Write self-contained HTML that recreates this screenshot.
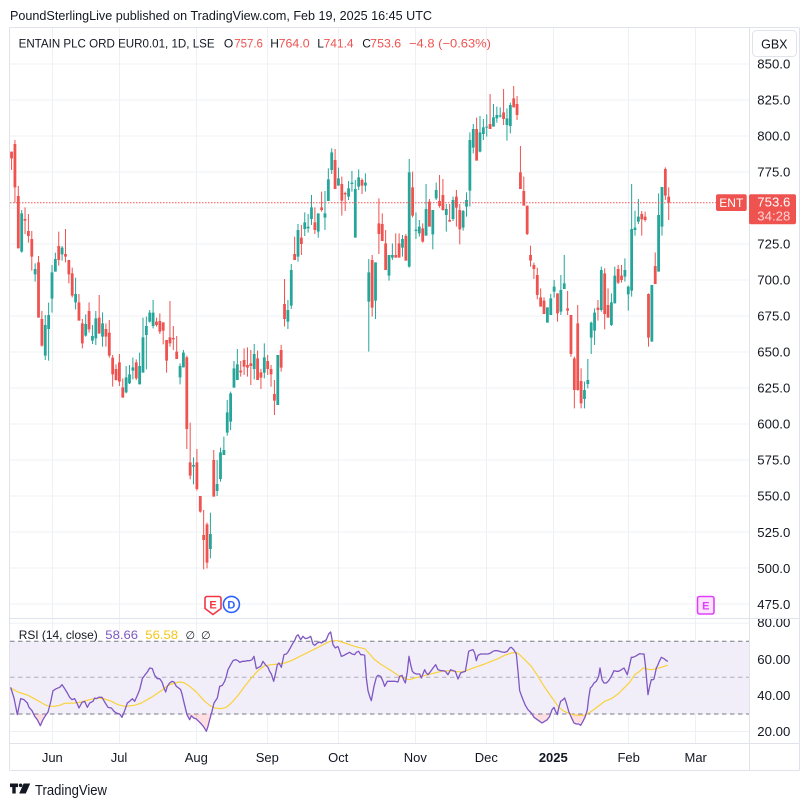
<!DOCTYPE html>
<html><head><meta charset="utf-8"><style>
html,body{margin:0;padding:0;background:#fff;}
svg{display:block;font-family:"Liberation Sans",Arial,sans-serif;}
</style></head><body>
<svg width="810" height="806" viewBox="0 0 810 806" xmlns="http://www.w3.org/2000/svg">
<defs>
<clipPath id="pp"><rect x="10" y="28" width="739" height="590"/></clipPath>
<clipPath id="rp"><rect x="10" y="619" width="739" height="124"/></clipPath>
<clipPath id="os" clipPathUnits="userSpaceOnUse"><rect x="-50" y="288" width="1100" height="200"/></clipPath>
<clipPath id="ax80"><rect x="750" y="619" width="50" height="20"/></clipPath>
</defs>
<rect width="810" height="806" fill="#fff"/>
<text x="10" y="20" font-size="13" fill="#131722" textLength="422" lengthAdjust="spacingAndGlyphs">PoundSterlingLive published on TradingView.com, Feb 19, 2025 16:45 UTC</text>

<!-- grid -->
<g stroke="#eef0f4" stroke-width="1" fill="none">
<path d="M52.5 28V743M119.5 28V743M196.5 28V743M267.5 28V743M338.5 28V743M415.5 28V743M486.5 28V743M553.5 28V743M628.5 28V743M695.5 28V743"/>
<path d="M10 64H749M10 100H749M10 136H749M10 172H749M10 208H749M10 244H749M10 280H749M10 316H749M10 352H749M10 388H749M10 424H749M10 460H749M10 496H749M10 532H749M10 568H749M10 604H749"/>
</g>

<!-- candles -->
<g clip-path="url(#pp)">
<g transform="translate(52,130) scale(3.37,0.333333)" fill="none">
<path stroke="#ef5350" stroke-width="0.3" d="M-12 65V120M-11 30V218M-10 168V355M-8 232V312M-7 252V338M-6 303V422M-4 378V563M-3 543V650M2 305V407M4 297V397M5 390V460M6 413V502M8 492V572M9 567V655M11 517V608M14 495V612M16 580V650M17 570V683M18 675V770M19 703V752M20 672V768M21 745V803M25 688V750M31 563V590M32 550V612M33 577V643M34 630V728M35 513V650M36 588V660M37 618V687M40 677V957M41 878V1048M43 957V1082M44 1098V1148M45 1140V1318M46 1178V1315M48 960V1100M56 693V740M57 655V735M58 652V740M59 660V765M61 662V750M62 717V777M64 675V735M65 705V770M66 750V855M68 645V725M69 447V590M72 320V390M74 285V375M78 232V312M80 185V245M84 57V177M86 140V257M87 185V243M92 145V192M95 375V560M97 205V372M98 250V333M99 300V420M102 310V383M103 310V383M105 312V392M107 125V262M110 280V338M112 207V290"/>
<path stroke="#ef5350" stroke-width="0.83" d="M-12 65V85M-11 42V172M-10 198V355M-8 267V272M-7 303V318M-6 327V380M-4 397V563M-3 567V647M2 348V390M4 372V380M5 390V433M6 430V497M8 517V572M9 580V640M11 543V598M14 563V610M16 597V620M17 608V677M18 683V733M19 717V750M20 697V755M21 772V803M25 697V745M31 575V585M32 573V605M33 577V602M34 630V692M35 622V640M36 624V628M37 665V687M40 682V897M41 997V1037M43 997V1077M44 1098V1145M45 1215V1230M46 1183V1298M48 990V1100M56 722V727M57 690V710M58 705V713M59 700V708M61 685V750M62 727V743M64 693V717M65 717V733M66 792V812M68 660V713M69 522V567M72 372V390M74 323V342M78 277V300M80 232V240M84 90V177M86 162V212M87 189V193M92 150V167M95 390V533M97 280V312M98 282V333M99 340V420M102 375V383M103 340V383M105 318V392M107 172V257M110 295V335M112 215V290"/>
<path stroke="#26a69a" stroke-width="0.3" d="M-9 240V368M-5 400V455M-2 555V690M-1 518V692M0 405V548M1 368V425M3 348V392M7 443V538M10 553V620M12 585V642M13 543V645M15 547V650M22 708V790M23 705V762M24 683V748M26 668V763M27 563V728M28 560V718M29 540V578M30 510V595M38 700V763M39 660V712M42 982V1063M47 1148V1285M49 990V1098M50 953V1055M51 920V975M52 810V917M53 785V900M54 693V773M55 657V750M60 642V748M63 640V745M67 675V825M70 510V597M71 402V537M73 282V395M75 247V318M76 252V308M77 195V285M79 250V323M81 183V300M82 115V213M83 55V132M85 113V167M88 153V210M89 123V185M90 150V323M91 118V180M93 130V185M94 387V665M96 397V567M100 375V452M101 340V390M104 315V380M106 87V413M108 247V327M109 270V320M111 162V317M113 240V358"/>
<path stroke="#26a69a" stroke-width="0.83" d="M-9 250V365M-5 417V433M-2 585V677M-1 555V597M0 427V506M1 387V425M3 353V373M7 492V517M10 582V617M12 618V632M13 565V625M15 580V620M22 742V787M23 733V760M24 712V722M26 708V763M27 622V728M28 588V615M29 548V575M30 548V588M38 708V742M39 668V712M42 1005V1010M47 1212V1257M49 1062V1083M50 967V1047M51 960V975M52 847V908M53 790V875M54 715V773M55 703V750M60 672V717M63 682V728M67 675V825M70 540V575M71 420V527M73 300V380M75 277V297M76 290V295M77 232V267M79 250V305M81 250V263M82 148V213M83 67V120M85 145V167M88 175V200M89 158V162M90 177V323M91 142V170M93 158V167M94 427V515M96 397V512M100 375V437M101 375V383M104 327V353M106 127V410M108 299V303M109 290V310M111 237V317M113 240V313"/>
</g>
<g transform="translate(52,80) scale(3.37,0.333333)" fill="none">
<path stroke="#ef5350" stroke-width="0.3" d="M115 285V383M116 297V392M118 372V425M120 330V440M121 372V493M126 113V242M130 42V147M134 27V135M137 18V82M138 48V120M139 198V327M140 290V377M141 377V465M142 497V560M143 548V597M144 563V658M145 625V680M146 652V702M150 640V725M153 633V705M154 705V830M155 830V985M156 675V932M157 865V985M162 660V722M164 565V748M165 625V713M168 555V612M169 555V608M175 393V467M176 395V425M177 640V800M179 517V612M182 262V360M183 322V420"/>
<path stroke="#ef5350" stroke-width="0.83" d="M115 363V378M116 345V390M118 420V425M120 350V383M121 390V448M126 147V242M130 132V147M134 97V117M137 55V82M138 72V105M139 277V327M140 333V377M141 377V462M142 525V542M143 555V567M144 585V645M145 652V680M146 662V702M150 640V700M153 685V692M154 705V822M155 835V930M156 730V930M157 903V970M162 683V690M164 580V702M165 675V713M168 567V608M169 587V600M175 402V418M176 410V420M177 642V773M179 558V612M182 267V347M183 350V368"/>
<path stroke="#26a69a" stroke-width="0.3" d="M114 308V360M117 372V455M119 350V423M122 390V452M123 337V410M124 157V380M125 132V220M127 108V217M128 117V180M129 103V170M131 72V140M132 80V128M133 82V112M135 85V182M136 68V160M147 682V728M148 642V705M149 600V653M151 585V705M152 525V627M158 905V985M159 837V925M160 725V822M161 685V795M163 560V695M166 640V738M167 560V670M170 535V605M171 617V692M172 312V650M173 392V467M174 357V432M178 615V785M180 340V575M181 321V467"/>
<path stroke="#26a69a" stroke-width="0.83" d="M114 330V355M117 387V405M119 360V417M122 393V443M123 360V380M124 180V332M125 147V203M127 157V215M128 142V162M129 140V143M131 112V140M132 105V115M133 106V110M135 115V135M136 75V138M147 682V728M148 655V705M149 620V635M151 630V695M152 610V627M158 930V957M159 900V912M160 728V773M161 698V752M163 570V690M166 667V735M167 587V670M170 570V590M171 620V643M172 447V632M173 443V450M174 410V425M178 615V785M180 405V575M181 321V440"/>
</g>
</g>

<!-- price line -->
<line x1="10" y1="202.7" x2="716" y2="202.7" stroke="#ef5350" stroke-width="1" stroke-dasharray="1.5,1.5"/>

<!-- legend -->
<g font-size="12">
<text x="18.6" y="47.5" fill="#131722" textLength="196" lengthAdjust="spacingAndGlyphs">ENTAIN PLC ORD EUR0.01, 1D, LSE</text>
<text x="223.9" y="47.5" fill="#131722">O</text>
<text x="234.2" y="47.5" fill="#ef5350" textLength="28.7" lengthAdjust="spacingAndGlyphs">757.6</text>
<text x="270.3" y="47.5" fill="#131722">H</text>
<text x="278.6" y="47.5" fill="#ef5350" textLength="31" lengthAdjust="spacingAndGlyphs">764.0</text>
<text x="317.2" y="47.5" fill="#131722">L</text>
<text x="323.6" y="47.5" fill="#ef5350" textLength="30" lengthAdjust="spacingAndGlyphs">741.4</text>
<text x="362.3" y="47.5" fill="#131722">C</text>
<text x="370.2" y="47.5" fill="#ef5350" textLength="31" lengthAdjust="spacingAndGlyphs">753.6</text>
<text x="409" y="47.5" fill="#ef5350" textLength="82" lengthAdjust="spacingAndGlyphs">−4.8 (−0.63%)</text>
</g>

<!-- markers -->
<path d="M206,596.5 h13 a2,2 0 0 1 2,2 v10 l-8,6 l-8,-6 v-10 a2,2 0 0 1 2,-2 z" fill="#fff" stroke="#f23645" stroke-width="1.6"/>
<text x="213" y="608.5" font-size="11" font-weight="bold" fill="#f23645" text-anchor="middle">E</text>
<circle cx="231.4" cy="604.4" r="8" fill="#fff" stroke="#2962ff" stroke-width="1.6"/>
<text x="231.4" y="608.4" font-size="11" font-weight="bold" fill="#2962ff" text-anchor="middle">D</text>
<rect x="697.5" y="596.5" width="16.5" height="17.5" rx="2" fill="#fce4fe" stroke="#e040fb" stroke-width="1.6"/>
<text x="705.8" y="609.3" font-size="11" font-weight="bold" fill="#e040fb" text-anchor="middle">E</text>

<!-- RSI pane -->
<g clip-path="url(#rp)">
<rect x="10" y="641.3" width="739" height="72.7" fill="#f2eef9"/>
<g stroke="#eef0f4"><path d="M10 623.3H749M10 659.3H749M10 695.3H749M10 731.5H749"/></g>
<line x1="10" y1="641.3" x2="749" y2="641.3" stroke="#787b86" stroke-dasharray="4.5,3.5"/>
<line x1="10" y1="677.3" x2="749" y2="677.3" stroke="#787b86" stroke-opacity="0.55" stroke-dasharray="4.5,3.5"/>
<line x1="10" y1="714" x2="749" y2="714" stroke="#787b86" stroke-dasharray="4.5,3.5"/>
<g transform="translate(8,618) scale(0.333333)" fill="none" stroke-linejoin="round">
<polygon clip-path="url(#os)" fill="rgba(242,54,69,0.16)" stroke="none" points="8,208 18,240 28,290 38,242 48,245 58,255 63,268 72,278 80,295 88,305 97,323 105,305 113,292 120,282 128,252 135,218 145,212 155,208 162,200 170,212 178,225 185,238 192,245 200,242 208,258 213,270 222,253 230,250 238,268 245,255 255,250 260,240 265,242 272,238 282,238 290,252 300,268 310,270 318,280 325,285 335,288 342,298 350,278 358,255 365,250 373,242 380,250 388,232 395,215 403,182 410,172 418,162 425,150 433,152 440,172 448,182 455,182 462,192 468,210 473,222 478,205 485,195 492,190 498,192 505,205 512,210 518,215 522,228 530,262 537,290 545,305 550,293 557,300 565,303 572,310 580,318 588,328 595,340 600,325 605,305 612,280 618,255 628,240 635,205 643,202 650,190 660,155 990,155 990,288 8,288"/>
<polyline stroke="#f9d23c" stroke-width="3.6" points="8,210 30,222 60,232 90,248 110,260 125,265 140,265 155,262 170,256 200,255 220,252 245,245 270,240 290,243 310,250 330,260 350,265 380,262 400,255 430,238 460,218 480,202 500,195 515,192 528,194 545,205 565,222 590,250 605,262 620,270 640,272 655,268 670,255 690,232 710,205 730,180 750,158 770,143 790,140 810,138 830,135 850,128 870,118 890,108 910,98 930,88 950,78 965,70 980,68 990,68"/>
<polyline stroke="#7e57c2" stroke-width="3.9" points="8,208 18,240 28,290 38,242 48,245 58,255 63,268 72,278 80,295 88,305 97,323 105,305 113,292 120,282 128,252 135,218 145,212 155,208 162,200 170,212 178,225 185,238 192,245 200,242 208,258 213,270 222,253 230,250 238,268 245,255 255,250 260,240 265,242 272,238 282,238 290,252 300,268 310,270 318,280 325,285 335,288 342,298 350,278 358,255 365,250 373,242 380,250 388,232 395,215 403,182 410,172 418,162 425,150 433,152 440,172 448,182 455,182 462,192 468,210 473,222 478,205 485,195 492,190 498,192 505,205 512,210 518,215 522,228 530,262 537,290 545,305 550,293 557,300 565,303 572,310 580,318 588,328 595,340 600,325 605,305 612,280 618,255 628,240 635,205 643,202 650,190 655,175 660,155 668,140 675,128 683,125 690,128 695,133 703,130 710,130 718,128 725,128 732,125 738,115 745,152 752,148 758,145 765,130 772,140 780,148 785,160 790,168 797,190 803,165 808,140 813,135 820,148 828,110 835,108 840,102 848,88 855,75 860,68 865,55 870,50 878,65 885,55 892,62 900,60 908,55 915,78 920,82 928,75 935,72 940,75 948,70 955,65 962,48 968,42 975,80 982,90 990,85"/>
</g>
<g transform="translate(338,618) scale(0.333333)" fill="none" stroke-linejoin="round">
<polygon clip-path="url(#os)" fill="rgba(242,54,69,0.16)" stroke="none" points="535,108 540,160 545,218 550,232 555,245 562,262 570,275 580,285 588,298 598,305 605,310 612,315 620,310 628,305 635,295 642,275 648,268 652,278 658,290 662,270 668,250 675,245 680,240 685,255 692,280 700,298 708,315 715,318 722,318 728,322 735,310 742,295 748,275 752,240 757,210 760,200 760,288 535,288"/>
<polyline stroke="#f9d23c" stroke-width="3.6" points="0,68 20,75 40,82 60,88 80,92 95,108 110,125 130,140 150,152 170,165 185,175 200,182 215,185 230,180 250,175 270,170 290,165 310,160 330,158 350,160 370,162 385,158 400,152 420,145 440,138 460,130 480,122 500,112 520,105 535,103 545,110 560,125 580,145 600,175 615,200 630,222 645,243 660,265 675,278 690,285 705,290 720,292 740,292 760,280 780,265 800,250 820,242 840,228 860,208 875,193 890,170 905,160 915,150 925,153 940,155 955,152 970,148 985,143 990,142"/>
<polyline stroke="#7e57c2" stroke-width="3.9" points="0,85 5,100 10,115 18,112 25,108 35,103 42,108 50,110 55,103 62,100 68,110 75,110 80,112 85,180 90,218 95,235 100,248 108,205 115,178 120,172 128,175 135,190 140,205 148,190 155,190 165,190 172,190 180,192 185,175 192,172 197,185 202,195 208,160 213,115 218,140 223,160 228,165 235,168 240,168 245,168 250,180 256,165 260,155 265,165 270,170 278,160 285,150 293,140 300,155 308,158 315,158 322,160 330,170 338,155 345,158 352,160 360,183 368,165 375,162 382,160 388,125 392,100 398,97 405,95 410,105 415,128 420,112 428,108 435,108 442,108 450,108 458,105 465,100 470,98 478,98 485,100 492,102 500,103 508,100 515,90 520,88 527,95 535,108 540,160 545,218 550,232 555,245 562,262 570,275 580,285 588,298 598,305 605,310 612,315 620,310 628,305 635,295 642,275 648,268 652,278 658,290 662,270 668,250 675,245 680,240 685,255 692,280 700,298 708,315 715,318 722,318 728,322 735,310 742,295 748,275 752,240 757,210 762,205 768,195 775,190 782,175 786,150 792,185 798,195 805,195 812,188 820,175 828,158 835,160 842,160 850,155 858,150 863,160 868,170 875,140 880,118 885,118 892,115 900,110 905,107 910,108 918,108 922,140 926,185 930,230 935,205 940,185 945,185 948,183 955,150 960,140 965,128 970,118 978,122 985,128 990,130"/>
</g>
</g>

<!-- RSI legend -->
<g font-size="12">
<text x="18.7" y="639" fill="#131722" textLength="79" lengthAdjust="spacingAndGlyphs">RSI (14, close)</text>
<text x="105.3" y="639" fill="#7e57c2" textLength="32.7" lengthAdjust="spacingAndGlyphs">58.66</text>
<text x="145.3" y="639" fill="#f5c518" textLength="32.7" lengthAdjust="spacingAndGlyphs">56.58</text>
<text x="185.5" y="639" fill="#131722" font-family="DejaVu Sans, sans-serif" font-size="11">∅</text>
<text x="201" y="639" fill="#131722" font-family="DejaVu Sans, sans-serif" font-size="11">∅</text>
</g>

<!-- frame -->
<g stroke="#e0e3eb" fill="none" stroke-width="1">
<rect x="9.5" y="27.5" width="790" height="743" rx="1"/>
<line x1="749.5" y1="27.5" x2="749.5" y2="770.5"/>
<line x1="10" y1="618.5" x2="799.5" y2="618.5"/>
<line x1="10" y1="743.5" x2="799.5" y2="743.5"/>
</g>

<!-- price axis labels -->
<g font-size="13" fill="#131722">
<text x="757.3" y="68.5" textLength="33" lengthAdjust="spacingAndGlyphs">850.0</text>
<text x="757.3" y="104.5" textLength="33" lengthAdjust="spacingAndGlyphs">825.0</text>
<text x="757.3" y="140.5" textLength="33" lengthAdjust="spacingAndGlyphs">800.0</text>
<text x="757.3" y="176.5" textLength="33" lengthAdjust="spacingAndGlyphs">775.0</text>
<text x="757.3" y="248.6" textLength="33" lengthAdjust="spacingAndGlyphs">725.0</text>
<text x="757.3" y="284.6" textLength="33" lengthAdjust="spacingAndGlyphs">700.0</text>
<text x="757.3" y="320.6" textLength="33" lengthAdjust="spacingAndGlyphs">675.0</text>
<text x="757.3" y="356.6" textLength="33" lengthAdjust="spacingAndGlyphs">650.0</text>
<text x="757.3" y="392.7" textLength="33" lengthAdjust="spacingAndGlyphs">625.0</text>
<text x="757.3" y="428.7" textLength="33" lengthAdjust="spacingAndGlyphs">600.0</text>
<text x="757.3" y="464.7" textLength="33" lengthAdjust="spacingAndGlyphs">575.0</text>
<text x="757.3" y="500.7" textLength="33" lengthAdjust="spacingAndGlyphs">550.0</text>
<text x="757.3" y="536.8" textLength="33" lengthAdjust="spacingAndGlyphs">525.0</text>
<text x="757.3" y="572.8" textLength="33" lengthAdjust="spacingAndGlyphs">500.0</text>
<text x="757.3" y="608.8" textLength="33" lengthAdjust="spacingAndGlyphs">475.0</text>
<text x="757.3" y="627.2" textLength="33" lengthAdjust="spacingAndGlyphs" clip-path="url(#ax80)">80.00</text>
<text x="757.3" y="664.2" textLength="33" lengthAdjust="spacingAndGlyphs">60.00</text>
<text x="757.3" y="700.2" textLength="33" lengthAdjust="spacingAndGlyphs">40.00</text>
<text x="757.3" y="736.2" textLength="33" lengthAdjust="spacingAndGlyphs">20.00</text>
</g>

<!-- GBX button -->
<rect x="752.5" y="30.5" width="44" height="26" rx="4" fill="#fff" stroke="#e0e3eb"/>
<text x="774.3" y="48.3" font-size="12.5" fill="#131722" text-anchor="middle">GBX</text>

<!-- ENT and price labels -->
<rect x="716" y="194.3" width="30.7" height="16.7" rx="2" fill="#ef5350"/>
<text x="731.3" y="206.8" font-size="12" fill="#fff" text-anchor="middle">ENT</text>
<rect x="749" y="194.3" width="47" height="30" rx="2" fill="#ef5350"/>
<text x="757.3" y="206.7" font-size="13" fill="#fff" textLength="33" lengthAdjust="spacingAndGlyphs">753.6</text>
<text x="757.3" y="220.7" font-size="13" fill="#fff" fill-opacity="0.75" textLength="33" lengthAdjust="spacingAndGlyphs">34:28</text>

<!-- time axis -->
<g font-size="13" fill="#131722" text-anchor="middle">
<text x="52.3" y="762">Jun</text>
<text x="119" y="762">Jul</text>
<text x="196.3" y="762">Aug</text>
<text x="267.3" y="762">Sep</text>
<text x="338.3" y="762">Oct</text>
<text x="415.3" y="762">Nov</text>
<text x="486.3" y="762">Dec</text>
<text x="553.3" y="762" font-weight="bold">2025</text>
<text x="628.7" y="762">Feb</text>
<text x="695.7" y="762">Mar</text>
</g>

<!-- footer logo -->
<g fill="#131722">
<path d="M10,783.5 h8 v3.6 h-2.3 v6.4 h-3.4 v-6.4 h-2.3 z"/>
<circle cx="20.6" cy="785.3" r="1.8"/>
<path d="M23.6,783.5 h6.6 l-4.4,10 h-6.6 z"/>
<text x="35" y="795" font-size="15" textLength="72" lengthAdjust="spacingAndGlyphs">TradingView</text>
</g>
</svg>
</body></html>
